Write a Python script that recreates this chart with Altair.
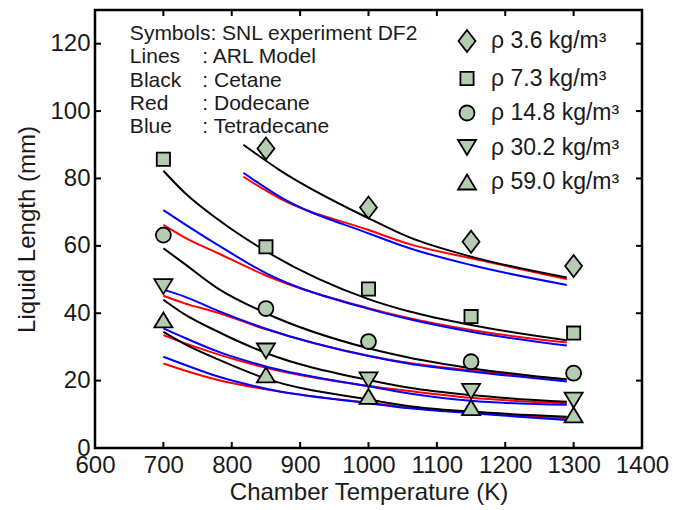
import altair as alt
import pandas as pd

# ---------------- data ----------------
x_ticks = [600, 700, 800, 900, 1000, 1100, 1200, 1300, 1400]
y_ticks = [0, 20, 40, 60, 80, 100, 120]

legend_labels = ["ρ 3.6 kg/m³", "ρ 7.3 kg/m³", "ρ 14.8 kg/m³", "ρ 30.2 kg/m³", "ρ 59.0 kg/m³"]

# SNL experiment DF2 (symbols)
exp_T = [700, 850, 1000, 1150, 1300]
exp_36 = [None, 88.9, 71.4, 61.2, 54.0]
exp_73 = [85.7, 59.7, 47.2, 39.0, 34.1]
exp_148 = [63.2, 41.4, 31.6, 25.6, 22.2]
exp_302 = [47.9, 28.8, 20.2, 16.8, 14.2]
exp_590 = [38.0, 21.7, 15.3, 12.0, 9.8]

# ARL model (lines)
T_36 = [817, 870, 1000, 1060, 1150, 1290]
cet_36 = [90.0, 82.5, 68.2, 62.5, 56.8, 50.6]
dod_36 = [80.5, 74.1, 64.7, 60.5, 56.3, 50.1]
tet_36 = [81.7, 74.6, 63.7, 59.3, 54.3, 48.4]

T_grid = [700, 730, 780, 850, 1000, 1060, 1150, 1290]
cet_73 = [82.3, 76.0, 67.8, 58.4, 44.2, 40.5, 36.5, 32.0]
dod_73 = [66.2, 62.6, 57.8, 51.2, 41.5, 38.5, 35.0, 31.3]
tet_73 = [70.6, 66.6, 60.2, 51.9, 41.3, 38.2, 34.5, 30.4]

cet_148 = [59.3, 54.8, 47.3, 40.0, 29.6, 26.8, 23.7, 20.3]
dod_148 = [45.2, 43.0, 40.1, 35.2, 27.4, 25.2, 23.0, 20.4]
tet_148 = [47.0, 45.0, 40.7, 35.4, 27.3, 25.0, 22.7, 19.7]

cet_302 = [44.0, 39.8, 34.5, 28.2, 20.2, 17.9, 15.7, 13.7]
dod_302 = [33.5, 31.2, 27.8, 23.8, 18.4, 16.9, 14.9, 13.3]
tet_302 = [35.5, 32.8, 28.6, 24.2, 18.3, 16.2, 14.0, 12.8]

cet_590 = [34.5, 31.0, 26.3, 20.6, 14.4, 12.4, 10.8, 9.3]
dod_590 = [25.1, 23.1, 20.2, 17.4, 13.4, 12.0, 10.5, 8.8]
tet_590 = [27.1, 24.8, 21.2, 17.6, 13.3, 11.8, 10.3, 8.3]

notes_left = ["Symbols: SNL experiment DF2", "Lines", "Black", "Red", "Blue"]
notes_right = ["", ": ARL Model", ": Cetane", ": Dodecane", ": Tetradecane"]
notes_val = [121.1, 114.2, 107.2, 100.3, 93.4]

# ---------------- tables ----------------
exp_rows = []
for lab, vals in zip(legend_labels, [exp_36, exp_73, exp_148, exp_302, exp_590]):
    for t, v in zip(exp_T, vals):
        if v is not None:
            exp_rows.append({"T": t, "L": v, "label": lab})
exp_df = pd.DataFrame(exp_rows)

series = [
    ("3.6", T_36, cet_36, dod_36, tet_36),
    ("7.3", T_grid, cet_73, dod_73, tet_73),
    ("14.8", T_grid, cet_148, dod_148, tet_148),
    ("30.2", T_grid, cet_302, dod_302, tet_302),
    ("59.0", T_grid, cet_590, dod_590, tet_590),
]
line_rows = []
for rho, T, cet, dod, tet in series:
    for fuel, vals in (("Cetane", cet), ("Dodecane", dod), ("Tetradecane", tet)):
        for t, v in zip(T, vals):
            line_rows.append({"T": t, "L": v, "fuel": fuel, "rho": rho})
line_df = pd.DataFrame(line_rows)

notes_df = pd.DataFrame({
    "left": notes_left, "right": notes_right, "v": notes_val,
    "xl": [651] * 5, "xr": [757] * 5,
})

FONT = "Liberation Sans"
TXT = "#1a1a1a"
FILL = "#b4cdb0"
W, H = 547, 438

xs = alt.Scale(domain=[600, 1400], nice=False, zero=False)
ys = alt.Scale(domain=[0, 130], nice=False, zero=False)

x_enc = alt.X("T:Q", scale=xs, title="Chamber Temperature (K)",
              axis=alt.Axis(values=x_ticks, format="d", labelFlush=False, labelOverlap=False,
                            ticks=False, domain=False, grid=False, labelPadding=5, titlePadding=3))
y_enc = alt.Y("L:Q", scale=ys, title="Liquid Length (mm)",
              axis=alt.Axis(values=y_ticks, format="d", labelFlush=False, labelOverlap=False,
                            ticks=False, domain=False, grid=False, labelPadding=5, titlePadding=10))

def fuel_layer(fuel, color):
    return alt.Chart(line_df[line_df.fuel == fuel]).mark_line(
        strokeWidth=2, interpolate="monotone", color=color
    ).encode(x=x_enc, y=y_enc, detail="rho:N")

lines = fuel_layer("Dodecane", "#ff0000") + fuel_layer("Tetradecane", "#0000ff") + fuel_layer("Cetane", "#000000")

# marker outlines, all drawn at one symbol size
shape_paths = [
    "M0,-1L0.77,0L0,1L-0.77,0Z",
    "M-0.6,-0.6L0.6,-0.6L0.6,0.6L-0.6,0.6Z",
    "M-0.68,0A0.68,0.68 0 1,0 0.68,0A0.68,0.68 0 1,0 -0.68,0Z",
    "M-0.82,-0.68L0.82,-0.68L0,0.68Z",
    "M-0.82,0.68L0.82,0.68L0,-0.68Z",
]
SYM = 484

def leg():
    return alt.Legend(title=None, orient="none", legendX=360, legendY=19, padding=0,
                      labelFont=FONT, labelFontSize=23, labelColor=TXT, labelLimit=400,
                      labelOffset=12, rowPadding=10.5, symbolSize=SYM, symbolStrokeWidth=1.8,
                      symbolOpacity=1)

points = alt.Chart(exp_df).mark_point(
    filled=True, strokeWidth=1.8, opacity=1, size=SYM
).encode(
    x=x_enc, y=y_enc,
    shape=alt.Shape("label:N", scale=alt.Scale(domain=legend_labels, range=shape_paths), legend=leg()),
    fill=alt.Fill("label:N", scale=alt.Scale(domain=legend_labels, range=[FILL] * 5), legend=leg()),
    stroke=alt.Stroke("label:N", scale=alt.Scale(domain=legend_labels, range=["#000000"] * 5), legend=leg()),
)

notes_l = alt.Chart(notes_df).mark_text(
    align="left", baseline="alphabetic", font=FONT, fontSize=21, color=TXT
).encode(x=alt.X("xl:Q", scale=xs), y=alt.Y("v:Q", scale=ys), text="left:N")
notes_r = alt.Chart(notes_df).mark_text(
    align="left", baseline="alphabetic", font=FONT, fontSize=21, color=TXT
).encode(x=alt.X("xr:Q", scale=xs), y=alt.Y("v:Q", scale=ys), text="right:N")

xt_df = pd.DataFrame({"t": x_ticks})
yt_df = pd.DataFrame({"t": y_ticks})
tk = dict(color="black", strokeWidth=2)
tick_b = alt.Chart(xt_df).mark_rule(**tk).encode(x=alt.X("t:Q", scale=xs), y=alt.value(H), y2=alt.value(H - 6))
tick_t = alt.Chart(xt_df).mark_rule(**tk).encode(x=alt.X("t:Q", scale=xs), y=alt.value(0), y2=alt.value(6))
tick_l = alt.Chart(yt_df).mark_rule(**tk).encode(y=alt.Y("t:Q", scale=ys), x=alt.value(0), x2=alt.value(6))
tick_r = alt.Chart(yt_df).mark_rule(**tk).encode(y=alt.Y("t:Q", scale=ys), x=alt.value(W), x2=alt.value(W - 6))

chart = alt.layer(lines, points, notes_l, notes_r, tick_b, tick_t, tick_l, tick_r).properties(
    width=W, height=H,
    autosize=alt.AutoSizeParams(type="none"),
    padding={"left": 95, "top": 10, "right": 31, "bottom": 62},
    background="white",
).configure_view(stroke="black", strokeWidth=2.5).configure_axis(
    labelFont=FONT, labelFontSize=24, labelColor=TXT,
    titleFont=FONT, titleFontSize=24, titleFontWeight="normal", titleColor=TXT,
)

chart.save("out.html", embed_options={"renderer": "svg", "actions": False})
